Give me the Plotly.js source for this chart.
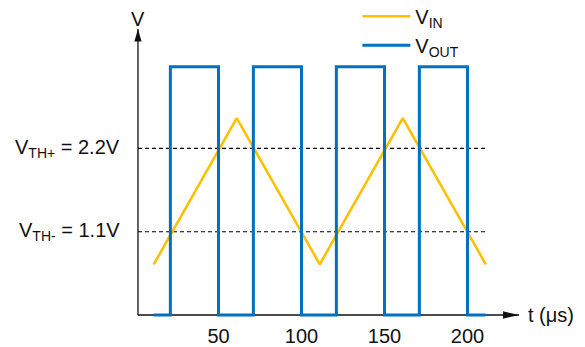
<!DOCTYPE html>
<html>
<head>
<meta charset="utf-8">
<script src="https://cdn.plot.ly/plotly-3.0.1.min.js"></script>
<style>html,body{margin:0;padding:0;background:#fff;}#chart{width:585px;height:347px;}</style>
</head>
<body>
<div id="chart"></div>
<script>
// ---- data ----
const vinT = [11, 61, 111, 161, 211];
const vinV = [0.67, 2.6, 0.67, 2.6, 0.67];
const voutT = [11, 21, 50, 71, 100, 121, 150, 171, 200, 211];
const voutV = [0, 3.28, 0, 3.28, 0, 3.28, 0, 3.28, 0, 0];
const thrV = [1.1, 2.2];
const thrLabels = ['V<sub>TH-</sub> = 1.1V', 'V<sub>TH+</sub> = 2.2V'];
const thrT = [1.5, 211.7];
const tickVals = [50, 100, 150, 200];
const tickText = ['50', '100', '150', '200'];
const seriesNames = ['V<sub>IN</sub>', 'V<sub>OUT</sub>'];
const xTitle = 't (μs)';
const yTitle = 'V';

// ---- axes geometry ----
const axisT = 1.5, axisTEnd = 231, axisVTop = 3.78;
const FONT = '"Liberation Sans", Arial, sans-serif';
const BLUE = '#0070C0', ORANGE = '#FFC000', INK = '#111111';
const FS = 20;

const traces = [];
thrV.forEach(v => traces.push({
  x: thrT, y: [v, v], mode: 'lines', showlegend: false, hoverinfo: 'skip',
  line: {color: '#000', width: 1.2, dash: '4px,3px'}
}));
traces.push({x: vinT, y: vinV, mode: 'lines', name: seriesNames[0],
  line: {color: ORANGE, width: 2.6}});
traces.push({x: voutT, y: voutV, mode: 'lines', name: seriesNames[1],
  line: {color: BLUE, width: 3, shape: 'hv'}});

const annotations = thrV.map((v, i) => ({
  xref: 'paper', x: 0, xshift: -8, xanchor: 'right',
  yref: 'y', y: v, yanchor: 'middle', showarrow: false,
  text: thrLabels[i], font: {family: FONT, size: FS, color: INK}
}));
annotations.push({xref: 'paper', x: 1, xshift: 4, xanchor: 'left', yref: 'y', y: 0,
  yanchor: 'middle', showarrow: false, text: xTitle, font: {family: FONT, size: FS, color: INK}});
annotations.push({xref: 'x', x: axisT, xanchor: 'center', yref: 'paper', y: 1, yshift: 7.5,
  yanchor: 'middle', showarrow: false, text: yTitle, font: {family: FONT, size: FS, color: INK}});

const shapes = [
  {type: 'line', xref: 'x', yref: 'y', x0: axisT, x1: axisTEnd, y0: 0, y1: 0,
   line: {color: INK, width: 1.3}, layer: 'below'},
  {type: 'line', xref: 'x', yref: 'y', x0: axisT, x1: axisT, y0: 0, y1: axisVTop,
   line: {color: INK, width: 1.3}, layer: 'below'},
  {type: 'path', xref: 'x', yref: 'y', xsizemode: 'pixel', ysizemode: 'pixel',
   xanchor: axisTEnd, yanchor: 0, path: 'M0,0 L-16,3.7 L-16,-3.7 Z',
   fillcolor: INK, line: {width: 0}},
  {type: 'path', xref: 'x', yref: 'y', xsizemode: 'pixel', ysizemode: 'pixel',
   xanchor: axisT, yanchor: axisVTop, path: 'M0,0 L-3.6,-12.5 L3.6,-12.5 Z',
   fillcolor: INK, line: {width: 0}}
];

const layout = {
  width: 585, height: 347,
  margin: {l: 130, r: 63, t: 26, b: 28, autoexpand: false},
  paper_bgcolor: '#fff', plot_bgcolor: '#fff',
  font: {family: FONT, size: FS, color: INK},
  xaxis: {range: [-3.31, 232.83], showgrid: false, zeroline: false, showline: false,
    tickvals: tickVals, ticktext: tickText, ticks: '', ticklabelstandoff: 3,
    tickfont: {family: FONT, size: FS, color: INK}, automargin: false},
  yaxis: {range: [-0.0528, 3.818], showgrid: false, zeroline: false, showline: false,
    showticklabels: false, automargin: false},
  showlegend: true,
  legend: {x: 0.58, xanchor: 'left', y: 1.1, yanchor: 'top', bgcolor: 'rgba(0,0,0,0)',
    font: {family: FONT, size: FS, color: INK}, itemwidth: 48, tracegroupgap: 0},
  annotations: annotations,
  shapes: shapes
};

Plotly.newPlot('chart', traces, layout, {staticPlot: true, displayModeBar: false});
</script>
</body>
</html>
